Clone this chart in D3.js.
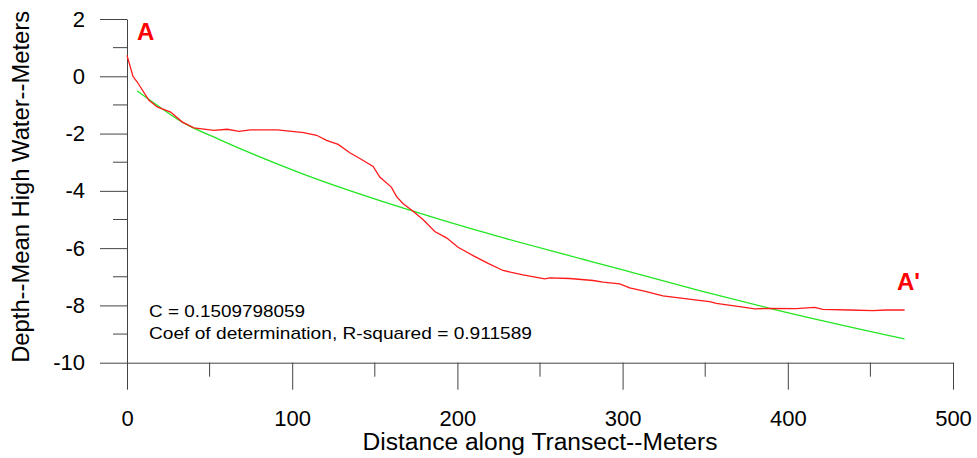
<!DOCTYPE html>
<html>
<head>
<meta charset="utf-8">
<script src="https://cdn.jsdelivr.net/npm/d3@7"></script>
<style>
  body { margin: 0; background: #fff; }
  svg { font-family: "Liberation Sans", Arial, sans-serif; }
</style>
</head>
<body>
<div id="chart"></div>
<script>
// Profile along the transect (distance m, depth m)
const profileX = [0, 3.6, 6.2, 13.3, 18.3, 26.4, 33.5, 40.5, 52.6, 60.7, 67.8, 74.8, 91, 107,
    114.8, 120.8, 127.8, 134.9, 143, 149, 153, 160, 163.2, 167.2, 173.2, 179.3, 186.3, 193.4,
    200.4, 209.5, 218.6, 227.6, 239.7, 252.9, 255.9, 268, 282.1, 288.2, 298.2, 304.3, 314.4,
    324.4, 342.6, 352.7, 356.7, 370.8, 380, 389, 405, 416.2, 421.2, 437.4, 451.5, 459.6, 470.7];
const profileY = [0.73, 0.0, -0.2, -0.84, -1.07, -1.25, -1.6, -1.8, -1.89, -1.85, -1.92, -1.87, -1.87, -1.97,
    -2.06, -2.24, -2.38, -2.67, -2.94, -3.15, -3.52, -3.87, -4.2, -4.45, -4.71, -5.01, -5.42, -5.64,
    -5.97, -6.26, -6.53, -6.78, -6.93, -7.07, -7.04, -7.06, -7.13, -7.19, -7.25, -7.39, -7.52,
    -7.67, -7.8, -7.87, -7.93, -8.04, -8.12, -8.1, -8.11, -8.07, -8.14, -8.16, -8.18, -8.16, -8.16];

// Fitted curve
const fitX = [6.2, 18.3, 33.5, 55.7, 104.7, 173.2, 213.5, 280, 346.6, 389, 470.7];
const fitY = [-0.51, -1.01, -1.6, -2.2, -3.37, -4.71, -5.41, -6.45, -7.48, -8.1, -9.17];

const xTicks = [0, 100, 200, 300, 400, 500];
const xMinor = [50, 150, 250, 350, 450];
const yTicks = [2, 0, -2, -4, -6, -8, -10];
const yMinor = [1, -1, -3, -5, -7, -9];

const notes = ["C = 0.1509798059", "Coef of determination, R-squared = 0.911589"];

const width = 977, height = 458;
const x = d3.scaleLinear().domain([0, 500]).range([127, 953]);
const y = d3.scaleLinear().domain([-10, 2]).range([362.7, 19]);

const svg = d3.select("#chart").append("svg")
    .attr("width", width)
    .attr("height", height);

const axisColor = "#444";

// x axis
const gx = svg.append("g").attr("transform", `translate(0,${y(-10)})`);
gx.call(d3.axisBottom(x).tickValues(xTicks).tickFormat(d => String(d))
    .tickSize(27).tickSizeOuter(0).tickPadding(21));
gx.append("g").selectAll("line").data(xMinor).join("line")
    .attr("x1", d => x(d)).attr("x2", d => x(d))
    .attr("y1", 0).attr("y2", 14);

// y axis
const gy = svg.append("g").attr("transform", `translate(${x(0)},0)`);
gy.call(d3.axisLeft(y).tickValues(yTicks).tickFormat(d => String(d))
    .tickSize(27).tickSizeOuter(0).tickPadding(15));
gy.append("g").selectAll("line").data(yMinor).join("line")
    .attr("x1", 0).attr("x2", -14)
    .attr("y1", d => y(d)).attr("y2", d => y(d));

svg.selectAll(".domain, .tick line, g line").attr("stroke", axisColor);
svg.selectAll(".tick text").attr("font-size", 22).attr("fill", "#000")
    .attr("font-family", "Liberation Sans, Arial, sans-serif");

// axis titles
svg.append("text")
    .attr("x", (x(0) + x(500)) / 2).attr("y", 450)
    .attr("text-anchor", "middle").attr("font-size", 23)
    .attr("textLength", 355).attr("lengthAdjust", "spacingAndGlyphs")
    .text("Distance along Transect--Meters");

svg.append("text")
    .attr("transform", `translate(29,${(y(2) + y(-10)) / 2 - 4}) rotate(-90)`)
    .attr("text-anchor", "middle").attr("font-size", 23)
    .attr("textLength", 352).attr("lengthAdjust", "spacingAndGlyphs")
    .text("Depth--Mean High Water--Meters");

// lines
svg.append("path")
    .datum(d3.zip(fitX, fitY))
    .attr("fill", "none").attr("stroke", "#22e622").attr("stroke-width", 1.3)
    .attr("d", d3.line().x(d => x(d[0])).y(d => y(d[1])).curve(d3.curveMonotoneX));

svg.append("path")
    .datum(d3.zip(profileX, profileY))
    .attr("fill", "none").attr("stroke", "#ff1a1a").attr("stroke-width", 1.3)
    .attr("d", d3.line().x(d => x(d[0])).y(d => y(d[1])));

// end labels
svg.append("text").attr("x", 137).attr("y", 40)
    .attr("font-size", 24).attr("font-weight", "bold").attr("fill", "#ff0000")
    .text("A");
svg.append("text").attr("x", 897).attr("y", 290)
    .attr("font-size", 24).attr("font-weight", "bold").attr("fill", "#ff0000")
    .text("A'");

// fit notes
svg.append("g").selectAll("text").data(notes).join("text")
    .attr("x", 149).attr("y", (d, i) => 317 + i * 22)
    .attr("font-size", 17)
    .attr("textLength", (d, i) => [156, 383][i]).attr("lengthAdjust", "spacingAndGlyphs")
    .text(d => d);
</script>
</body>
</html>
